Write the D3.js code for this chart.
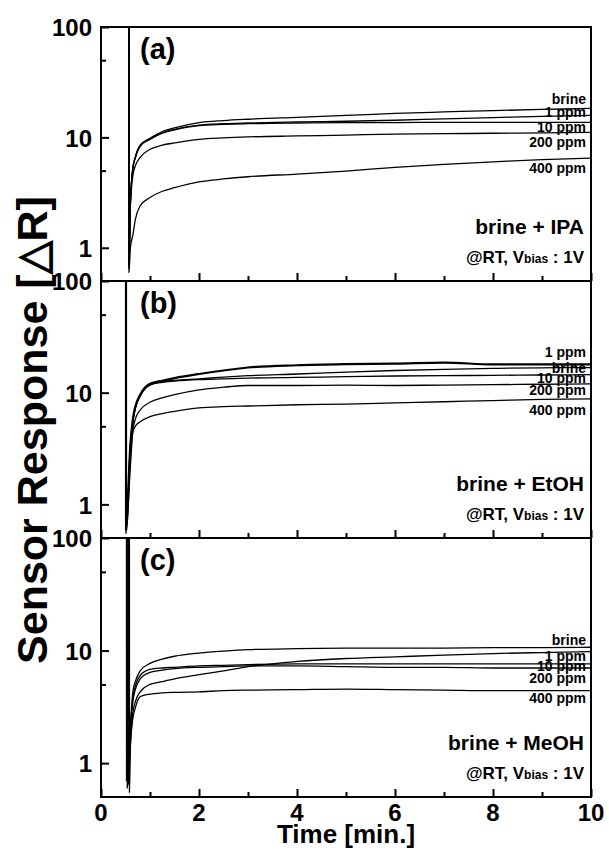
<!DOCTYPE html>
<html>
<head>
<meta charset="utf-8">
<script src="https://cdn.jsdelivr.net/npm/d3@7"></script>
<style>
  body { margin: 0; background: #fff; }
  svg text { font-family: "Liberation Sans", Arial, sans-serif; font-weight: bold; fill: #000; }
</style>
</head>
<body>
<div id="chart"></div>
<script>

// time axis (minutes) shared by every trace, after the onset spike
const times = [0.6, 0.65, 0.7, 0.8, 1, 1.25, 1.5, 2, 2.5, 3, 4, 5, 6, 7, 8, 9, 10];

const seriesNames = ["brine", "1 ppm", "10 ppm", "200 ppm", "400 ppm"];
const panelLetters = ["(a)", "(b)", "(c)"];
const analytes = ["brine + IPA", "brine + EtOH", "brine + MeOH"];

// value at top of the spike, and where each trace spikes (min.)
const spikeTop = 100;
const onsetA = [0.57, 0.57, 0.57, 0.57, 0.57];
const onsetB = [0.51, 0.51, 0.51, 0.51, 0.51];
const onsetC = [0.52, 0.535, 0.55, 0.565, 0.58];

// first value = minimum at the onset, then one value per entry of `times`
const ipaValues = [
    [0.65, 2.5, 5.2, 6.6, 8.5, 9.8, 11.3, 12.2, 13.6, 14.2, 14.6, 15.2, 15.8, 16.5, 17.0, 17.5, 17.9, 18.3],
    [0.7, 2.6, 5.3, 6.6, 8.4, 9.7, 11.0, 11.8, 12.9, 13.3, 13.5, 13.8, 14.0, 14.3, 14.7, 15.1, 15.5, 15.8],
    [0.7, 2.6, 5.2, 6.5, 8.3, 9.6, 10.9, 11.7, 12.8, 13.1, 13.3, 13.5, 13.6, 13.6, 13.7, 13.7, 13.7, 13.7],
    [0.7, 2.4, 4.5, 5.5, 6.6, 7.8, 8.5, 8.9, 9.6, 9.9, 10.1, 10.3, 10.5, 10.7, 10.8, 10.9, 11.0, 11.1],
    [0.6, 1.0, 1.3, 1.8, 2.4, 2.85, 3.25, 3.5, 3.95, 4.2, 4.4, 4.65, 4.95, 5.35, 5.7, 6.0, 6.3, 6.5]
];
const etohValues = [
    [0.6, 3.4, 5.6, 7.3, 9.4, 11.8, 12.6, 12.9, 13.3, 13.8, 14.2, 14.7, 15.3, 15.8, 16.2, 16.5, 16.7, 16.8],
    [0.6, 3.5, 5.8, 7.5, 9.6, 12.0, 12.8, 13.5, 14.7, 15.8, 16.8, 17.6, 18.0, 18.2, 18.6, 17.9, 17.9, 17.9],
    [0.6, 3.3, 5.5, 7.2, 9.3, 11.7, 12.4, 12.7, 13.1, 13.3, 13.5, 13.7, 13.9, 14.1, 14.2, 14.3, 14.4, 14.5],
    [0.6, 2.8, 4.6, 5.8, 7.0, 8.2, 9.0, 9.6, 10.6, 11.2, 11.6, 11.6, 11.7, 11.6, 11.7, 11.8, 11.9, 12.0],
    [0.55, 2.2, 4.4, 5.0, 5.5, 6.1, 6.5, 6.8, 7.3, 7.5, 7.6, 7.8, 7.9, 8.1, 8.3, 8.5, 8.7, 8.8]
];
const meohValues = [
    [0.7, 2.2, 4.3, 5.3, 6.6, 7.7, 8.4, 8.9, 9.5, 9.9, 10.2, 10.4, 10.5, 10.5, 10.5, 10.6, 10.6, 10.7],
    [0.6, 1.5, 2.8, 3.5, 4.3, 5.0, 5.3, 5.6, 6.1, 6.6, 7.2, 8.0, 8.5, 8.8, 9.1, 9.4, 9.6, 9.8],
    [0.65, 2.0, 3.8, 4.8, 6.0, 6.8, 7.0, 7.1, 7.3, 7.4, 7.5, 7.6, 7.6, 7.6, 7.6, 7.6, 7.6, 7.6],
    [0.65, 1.9, 3.5, 4.5, 5.6, 6.4, 6.7, 6.9, 7.1, 7.2, 7.3, 7.3, 7.2, 7.1, 7.1, 7.0, 7.0, 7.0],
    [0.55, 1.4, 2.5, 3.1, 3.9, 4.1, 4.2, 4.25, 4.3, 4.4, 4.45, 4.5, 4.55, 4.5, 4.45, 4.4, 4.4, 4.4]
];

// response level where each trace name sits at the right edge
const ipaLabelAt = [20.0, 15.3, 11.2, 8.26, 4.73];
const etohLabelAt = [14.9, 20.8, 12.1, 9.5, 6.3];
const meohLabelAt = [11.1, 8.0, 6.65, 5.17, 3.4];

const yMajor = [1, 10, 100];
const yMinor = [5, 50];
const xMajor = [0, 2, 4, 6, 8, 10];
const xMinor = [1, 3, 5, 7, 9];

const panels = [
    { values: ipaValues, onset: onsetA, labelAt: ipaLabelAt },
    { values: etohValues, onset: onsetB, labelAt: etohLabelAt },
    { values: meohValues, onset: onsetC, labelAt: meohLabelAt }
];

var W = 609, H = 850;
var left = 101, right = 591;
var edges = [27, 281, 538, 797];   // panel borders, top to bottom

var svg = d3.select("#chart").append("svg")
    .attr("width", W)
    .attr("height", H);

var x = d3.scaleLinear().domain([0, 10]).range([left, right]);

var line = d3.line()
    .x(d => x(d[0]))
    .y(d => d[1])
    .curve(d3.curveMonotoneX);

panels.forEach(function (p, pi) {
    var ptop = edges[pi],
        pbot = edges[pi + 1],
        ph = pbot - ptop;

    var y = d3.scaleLog().domain([0.5, 100]).range([pbot, ptop]);

    var g = svg.append("g");

    g.append("clipPath").attr("id", "clip" + pi)
        .append("rect")
        .attr("x", left).attr("y", ptop)
        .attr("width", right - left).attr("height", ph);

    var traces = g.append("g").attr("clip-path", "url(#clip" + pi + ")");

    p.values.forEach(function (vals, si) {
        var pts = [[p.onset[si], y(spikeTop)], [p.onset[si] + 0.001, y(vals[0])]];
        times.forEach((t, k) => pts.push([t, y(vals[k + 1])]));
        traces.append("path")
            .attr("d", line(pts))
            .attr("fill", "none")
            .attr("stroke", "#000")
            .attr("stroke-width", (pi == 1 && si == 1) ? 2.2 : 1.3);
    });

    // trace names at the right edge
    g.selectAll(".lab")
        .data(seriesNames)
        .enter()
        .append("text")
        .attr("x", right - 5)
        .attr("y", (d, i) => y(p.labelAt[i]))
        .attr("text-anchor", "end")
        .style("font-size", "14px")
        .text(d => d);

    // inward ticks
    g.append("g")
        .attr("transform", "translate(" + left + ",0)")
        .call(d3.axisLeft(y).tickValues(yMajor).tickSize(-8).tickPadding(9)
            .tickFormat(d3.format("d")))
        .call(a => a.select(".domain").remove())
        .call(a => a.selectAll("line").attr("stroke-width", 2))
        .call(a => a.selectAll("text").style("font-size", "24px").attr("dy", "0.36em"));

    g.append("g")
        .attr("transform", "translate(" + left + ",0)")
        .call(d3.axisLeft(y).tickValues(yMinor).tickSize(-5).tickFormat(""))
        .call(a => a.select(".domain").remove())
        .call(a => a.selectAll("line").attr("stroke-width", 2));

    g.append("g")
        .attr("transform", "translate(0," + pbot + ")")
        .call(d3.axisBottom(x).tickValues(xMajor).tickSize(-8).tickFormat(""))
        .call(a => a.select(".domain").remove())
        .call(a => a.selectAll("line").attr("stroke-width", 2));

    g.append("g")
        .attr("transform", "translate(0," + pbot + ")")
        .call(d3.axisBottom(x).tickValues(xMinor).tickSize(-5).tickFormat(""))
        .call(a => a.select(".domain").remove())
        .call(a => a.selectAll("line").attr("stroke-width", 2));

    g.append("rect")
        .attr("x", left).attr("y", ptop)
        .attr("width", right - left).attr("height", ph)
        .attr("fill", "none")
        .attr("stroke", "#000")
        .attr("stroke-width", 2);

    g.append("text")
        .attr("x", left + 39)
        .attr("y", ptop + 32)
        .style("font-size", "29px")
        .text(panelLetters[pi]);

    g.append("text")
        .attr("x", right - 7)
        .attr("y", pbot - 47)
        .attr("text-anchor", "end")
        .style("font-size", "21px")
        .text(analytes[pi]);

    var cond = g.append("text")
        .attr("x", right - 7)
        .attr("y", pbot - 18)
        .attr("text-anchor", "end")
        .style("font-size", "17px");
    cond.append("tspan").text("@RT, V");
    cond.append("tspan").style("font-size", "12px").text("bias");
    cond.append("tspan").text(" : 1V");
});

var bottom = edges[3];

svg.append("g").selectAll("text")
    .data(xMajor)
    .enter()
    .append("text")
    .attr("x", d => x(d))
    .attr("y", bottom + 24)
    .attr("text-anchor", "middle")
    .style("font-size", "24px")
    .text(d => d);

svg.append("text")
    .attr("x", (left + right) / 2)
    .attr("y", bottom + 46)
    .attr("text-anchor", "middle")
    .style("font-size", "26px")
    .text("Time [min.]");

svg.append("text")
    .attr("transform", "translate(47,430) rotate(-90)")
    .attr("text-anchor", "middle")
    .style("font-size", "43px")
    .text("Sensor Response [\u25B3R]");

</script>
</body>
</html>
